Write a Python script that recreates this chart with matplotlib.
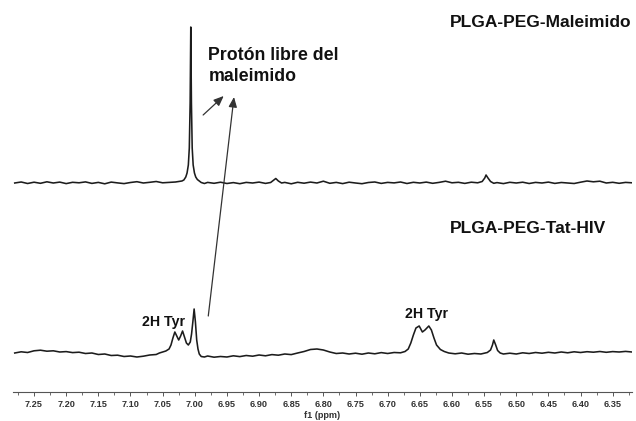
import matplotlib
matplotlib.use("Agg")
import matplotlib.pyplot as plt
from matplotlib.ticker import MultipleLocator, FormatStrFormatter

# ---------------- data ----------------
# Upper spectrum: PLGA-PEG-Maleimido (intensity relative to its baseline)
upper_ppm = [7.280, 7.270, 7.260, 7.250, 7.240, 7.230, 7.220, 7.210, 7.200, 7.190,
             7.180, 7.170, 7.160, 7.150, 7.140, 7.130, 7.120, 7.110, 7.100, 7.090,
             7.080, 7.070, 7.060, 7.050, 7.040, 7.030, 7.025, 7.020, 7.017, 7.014,
             7.012, 7.010, 7.0085, 7.0072, 7.0062, 7.0052, 7.0040, 7.0025, 7.0005, 6.9985,
             6.996, 6.993, 6.990, 6.985, 6.980, 6.970, 6.960, 6.950, 6.940, 6.930,
             6.920, 6.910, 6.900, 6.890, 6.882, 6.877, 6.874, 6.870, 6.865, 6.860,
             6.850, 6.840, 6.830, 6.820, 6.810, 6.800, 6.790, 6.780, 6.770, 6.760,
             6.750, 6.740, 6.730, 6.720, 6.710, 6.700, 6.690, 6.680, 6.670, 6.660,
             6.650, 6.640, 6.630, 6.620, 6.610, 6.600, 6.590, 6.580, 6.570, 6.560,
             6.553, 6.549, 6.547, 6.544, 6.540, 6.535, 6.530, 6.520, 6.510, 6.500,
             6.490, 6.480, 6.470, 6.460, 6.450, 6.440, 6.430, 6.420, 6.410, 6.400,
             6.390, 6.380, 6.370, 6.360, 6.350, 6.340, 6.330, 6.320]
upper_int = [0.0, 1.0, -0.5, 0.8, -0.3, 1.2, 0.0, 0.9, -0.6, 0.7,
             0.2, 1.1, -0.4, 0.6, -0.8, 0.9, 0.1, -0.6, 0.5, 1.3,
             0.0, 0.7, 1.5, 0.2, 0.6, 1.0, 1.5, 2.0, 3.0, 6.0,
             10.0, 18.0, 35.0, 80.0, 156.0, 80.0, 35.0, 18.0, 10.0, 6.0,
             3.5, 2.0, 0.5, -0.5, 0.6, -0.3, 0.8, -0.5, 0.4, -0.7,
             0.6, 0.0, 0.9, -0.4, 0.5, 3.0, 4.5, 2.0, 0.0, 0.6,
             -0.8, 0.7, -0.2, 0.9, 0.0, 1.8, -0.3, 0.6, -0.6, 0.8,
             0.0, -0.7, 0.5, 1.0, -0.4, 0.6, 0.1, 1.0, -0.5, 0.7,
             0.0, 0.9, -0.3, 0.6, 1.8, 0.2, 0.7, -0.4, 0.8, 0.2,
             1.5, 5.0, 8.0, 5.0, 1.5, -0.3, 0.4, -0.6, 0.7, 0.0,
             0.8, -0.5, 0.6, 0.0, 0.9, -0.4, 0.5, 0.0, -0.5, 0.8,
             2.0, 1.2, 1.8, 0.0, 0.7, -0.3, 0.6, 0.2]

# Lower spectrum: PLGA-PEG-Tat-HIV (intensity relative to its baseline)
lower_ppm = [7.280, 7.270, 7.260, 7.250, 7.240, 7.230, 7.220, 7.210, 7.200, 7.190,
             7.180, 7.170, 7.160, 7.150, 7.140, 7.130, 7.120, 7.110, 7.100, 7.090,
             7.080, 7.070, 7.060, 7.055, 7.050, 7.045, 7.040, 7.037, 7.034, 7.031,
             7.028, 7.025, 7.022, 7.019, 7.016, 7.013, 7.010, 7.007, 7.005, 7.003,
             7.001, 6.999, 6.997, 6.995, 6.993, 6.990, 6.985, 6.980, 6.970, 6.960,
             6.950, 6.940, 6.930, 6.920, 6.910, 6.900, 6.890, 6.880, 6.870, 6.860,
             6.850, 6.840, 6.830, 6.820, 6.810, 6.800, 6.790, 6.780, 6.770, 6.760,
             6.750, 6.740, 6.730, 6.720, 6.710, 6.700, 6.690, 6.680, 6.673, 6.668,
             6.664, 6.660, 6.656, 6.651, 6.646, 6.642, 6.636, 6.632, 6.628, 6.624,
             6.618, 6.612, 6.605, 6.595, 6.585, 6.575, 6.565, 6.555, 6.545, 6.540,
             6.537, 6.535, 6.532, 6.529, 6.525, 6.520, 6.510, 6.500, 6.490, 6.480,
             6.470, 6.460, 6.450, 6.440, 6.430, 6.420, 6.410, 6.400, 6.390, 6.380,
             6.370, 6.360, 6.350, 6.340, 6.330, 6.320]
lower_int = [-1.0, 0.2, -0.5, 1.2, 1.8, 0.8, 1.2, 0.0, 0.4, -0.6,
             -0.2, -1.5, -1.0, -2.5, -2.0, -3.5, -3.2, -4.5, -4.0, -5.0,
             -4.2, -3.0, -2.5, -1.0, 0.0, 1.0, 3.0, 7.0, 14.0, 20.0,
             16.0, 12.0, 16.0, 21.0, 15.0, 9.0, 7.0, 10.0, 18.0, 30.0,
             43.0, 30.0, 12.0, 3.0, -2.0, -4.5, -5.0, -4.0, -5.2, -4.5,
             -5.0, -3.8, -4.6, -3.5, -4.2, -3.0, -3.8, -2.6, -3.2, -2.0,
             -2.6, -1.0, 0.5, 2.5, 3.0, 2.0, 0.0, -1.5, -1.0, -2.0,
             -1.2, -2.2, -1.0, -1.8, -0.6, -1.5, -0.5, -0.8, 0.5, 3.0,
             9.0, 17.0, 24.0, 26.0, 20.0, 22.0, 26.0, 22.0, 14.0, 7.0,
             2.5, 0.5, -1.0, -1.8, -1.0, -2.2, -1.5, -2.0, -0.5, 2.0,
             7.0, 12.0, 7.0, 1.5, -1.0, -2.0, -1.2, -2.0, -0.8, -1.5,
             -0.5, -1.2, -0.3, -1.0, 0.0, -0.8, 0.2, -0.5, 0.3, -0.2,
             0.5, -0.3, 0.4, 0.0, 0.6, 0.0]

upper_offset = 209
lower_offset = 40

tick_values = [7.25, 7.20, 7.15, 7.10, 7.05, 7.00, 6.95, 6.90, 6.85, 6.80,
               6.75, 6.70, 6.65, 6.60, 6.55, 6.50, 6.45, 6.40, 6.35]

# ---------------- figure ----------------
plt.rcParams['font.family'] = ['Liberation Sans', 'DejaVu Sans']
W, H = 636, 421
fig = plt.figure(figsize=(W / 100, H / 100), dpi=100)
ax = fig.add_axes([13 / W, (H - 392) / H, (632 - 13) / W, 392 / H])

line_col = '#1c1c1c'
ax.plot(upper_ppm, [v + upper_offset for v in upper_int], color=line_col, lw=1.15)
ax.plot(lower_ppm, [v + lower_offset for v in lower_int], color=line_col, lw=1.15)

ax.set_xlim(7.2827, 6.320)
ax.set_ylim(0, 392)

for s in ['top', 'left', 'right']:
    ax.spines[s].set_visible(False)
ax.spines['bottom'].set_color('#555555')
ax.spines['bottom'].set_linewidth(0.8)
ax.set_yticks([])
ax.set_xticks(tick_values)
ax.xaxis.set_major_formatter(FormatStrFormatter('%.2f'))
ax.xaxis.set_minor_locator(MultipleLocator(0.025))
ax.tick_params(axis='x', which='major', length=3, width=0.7, color='#555555',
               labelsize=6.6, labelcolor='#333333', pad=3)
ax.tick_params(axis='x', which='minor', length=2, width=0.6, color='#555555')
for lab in ax.get_xticklabels():
    lab.set_fontweight('bold')
ax.set_xlabel('f1 (ppm)', fontsize=6.6, fontweight='bold', color='#333333', labelpad=1)

txt = '#111111'
ax.text(6.603, 365, 'PLGA-PEG-Maleimido', fontsize=12.5, fontweight='bold',
        color=txt, va='baseline', ha='left')
ax.text(6.603, 159, 'PLGA-PEG-Tat-HIV', fontsize=12.5, fontweight='bold',
        color=txt, va='baseline', ha='left')
ax.text(6.979, 332, 'Protón libre del', fontsize=12.8, fontweight='bold',
        color=txt, va='baseline', ha='left')
ax.text(6.979, 311, 'maleimido', fontsize=12.8, fontweight='bold',
        color=txt, va='baseline', ha='left')
ax.text(7.082, 66, '2H Tyr', fontsize=10.2, fontweight='bold',
        color=txt, va='baseline', ha='left')
ax.text(6.673, 74, '2H Tyr', fontsize=10.2, fontweight='bold',
        color=txt, va='baseline', ha='left')

arrow_kw = dict(arrowstyle='-|>,head_length=0.6,head_width=0.25', color='#333333',
                lw=0.9, shrinkA=0, shrinkB=0)
ax.annotate('', xy=(6.955, 296), xytext=(6.987, 277), arrowprops=arrow_kw)
ax.annotate('', xy=(6.939, 295), xytext=(6.979, 76), arrowprops=arrow_kw)

fig.savefig('out.png', dpi=100)
